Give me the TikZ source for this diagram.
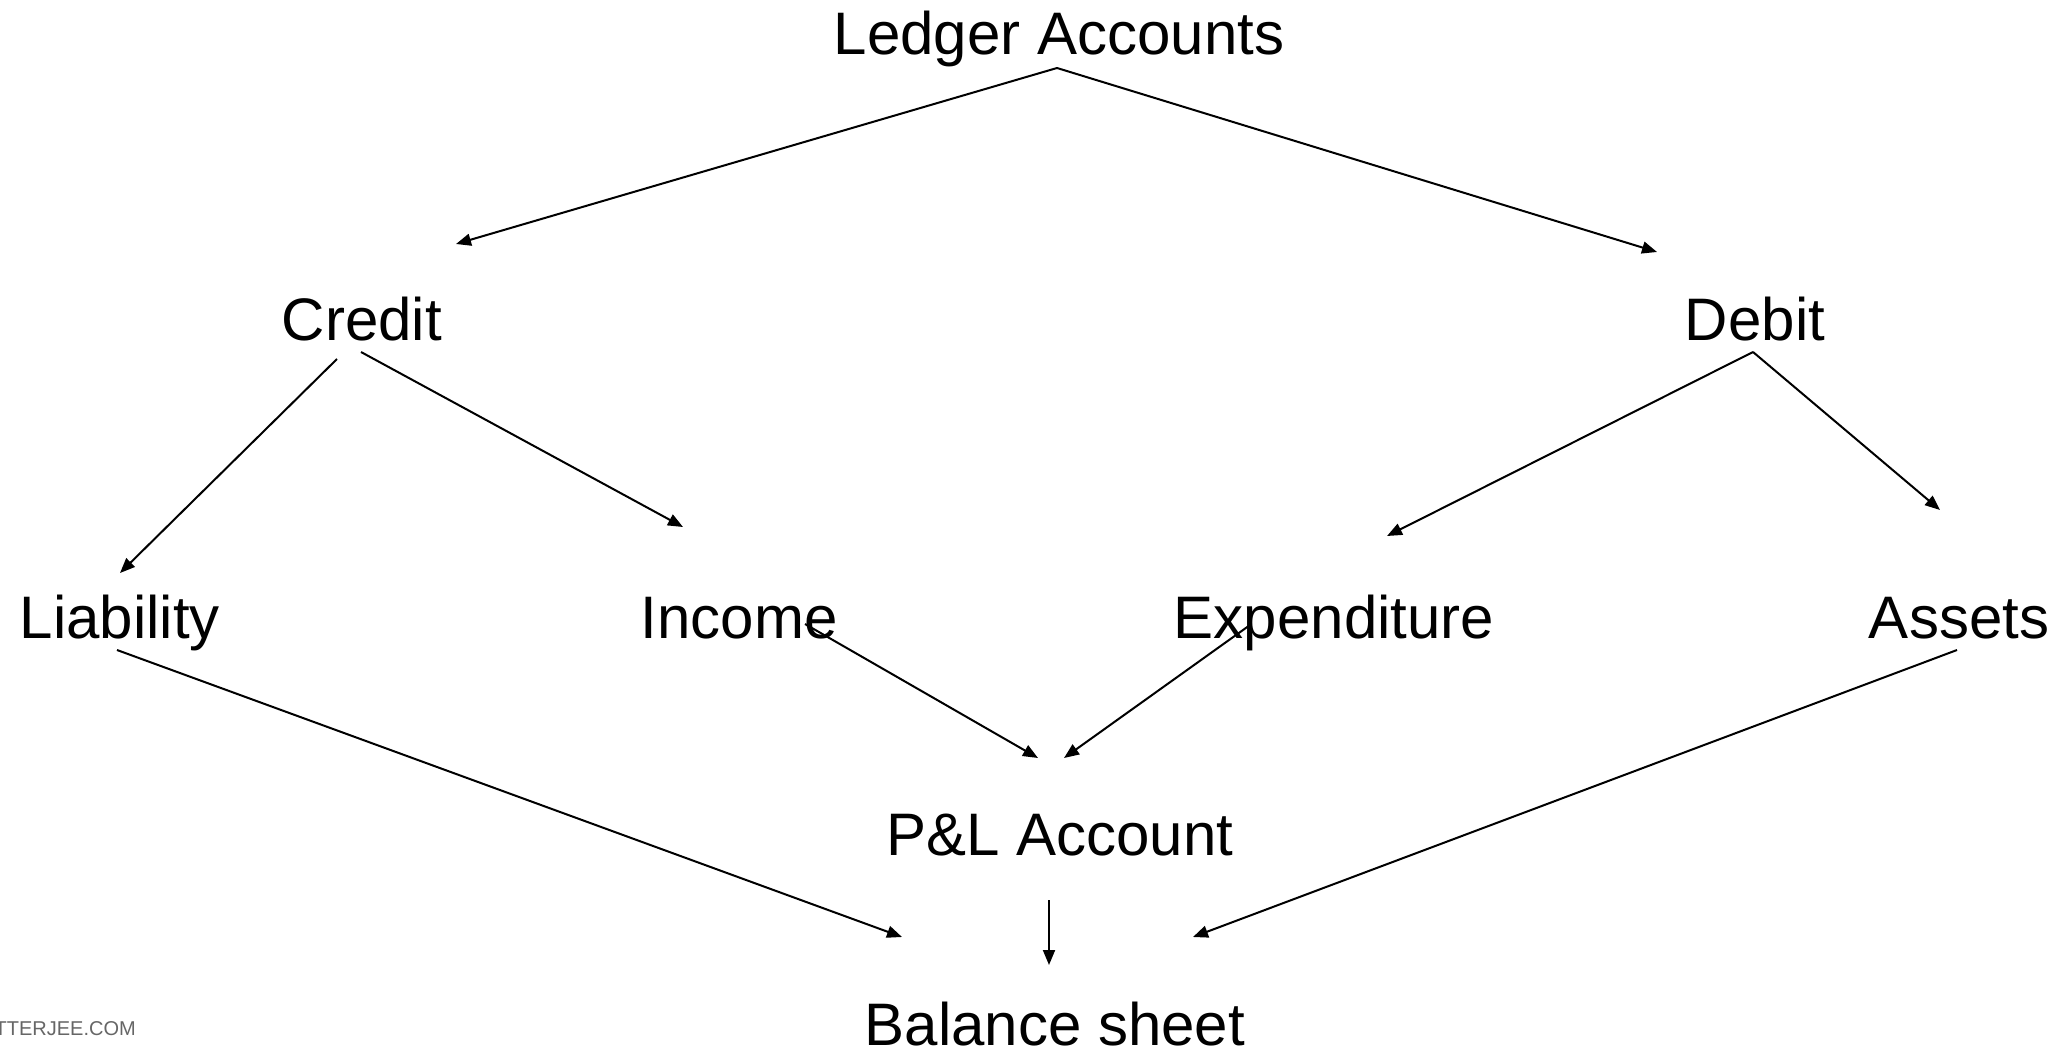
\documentclass[tikz,border=0pt]{standalone}
\usepackage{fontspec}
\setmainfont{Liberation Sans}
\usetikzlibrary{arrows.meta}
\begin{document}
\begin{tikzpicture}[x=1pt,y=-1pt,
  lbl/.style={anchor=base,inner sep=0pt,font=\fontsize{60}{72}\selectfont},
  arr/.style={line width=2pt,-{Triangle[length=15pt,width=12pt]}}]
\useasboundingbox (0,0) rectangle (2061,1051);
\node[lbl] (ledger) at (1059,55) {Ledger Accounts};
\node[lbl] (credit) at (362,340) {Credit};
\node[lbl] (debit) at (1755,340) {Debit};
\node[lbl] (liab) at (120,638) {Liability};
\node[lbl] (income) at (739,638) {Income};
\node[lbl] (expend) at (1334,638) {Expenditure};
\node[lbl] (assets) at (1959,638) {Assets};
\node[lbl] (pl) at (1060,855) {P\&L Account};
\node[lbl] (bs) at (1055,1045) {Balance sheet};
\node[anchor=base east,inner sep=0pt,text=black!60,font=\fontsize{20}{24}\selectfont] (wm) at (136,1035) {TTERJEE.COM};
% connector end points
\coordinate (ledgerOut) at (1057,68);
\coordinate (creditIn) at (456,244);
\coordinate (debitIn) at (1657,252);
\coordinate (creditOutL) at (337,359);
\coordinate (creditOutR) at (361,352);
\coordinate (liabIn) at (120,573);
\coordinate (incomeIn) at (683,527);
\coordinate (debitOut) at (1753,352);
\coordinate (expendIn) at (1387,536);
\coordinate (assetsIn) at (1940,510);
\coordinate (incomeOut) at (805,624);
\coordinate (expendOut) at (1250,625);
\coordinate (plInL) at (1038,758);
\coordinate (plInR) at (1064,758);
\coordinate (liabOut) at (117,650);
\coordinate (assetsOut) at (1957,650);
\coordinate (bsInL) at (902,937);
\coordinate (bsInR) at (1193,937);
\coordinate (plOut) at (1049,900);
\coordinate (bsInM) at (1049,965);
\draw[arr] (ledgerOut) -- (creditIn);
\draw[arr] (ledgerOut) -- (debitIn);
\draw[arr] (creditOutL) -- (liabIn);
\draw[arr] (creditOutR) -- (incomeIn);
\draw[arr] (debitOut) -- (expendIn);
\draw[arr] (debitOut) -- (assetsIn);
\draw[arr] (incomeOut) -- (plInL);
\draw[arr] (expendOut) -- (plInR);
\draw[arr] (liabOut) -- (bsInL);
\draw[arr] (assetsOut) -- (bsInR);
\draw[arr] (plOut) -- (bsInM);
\end{tikzpicture}
\end{document}
